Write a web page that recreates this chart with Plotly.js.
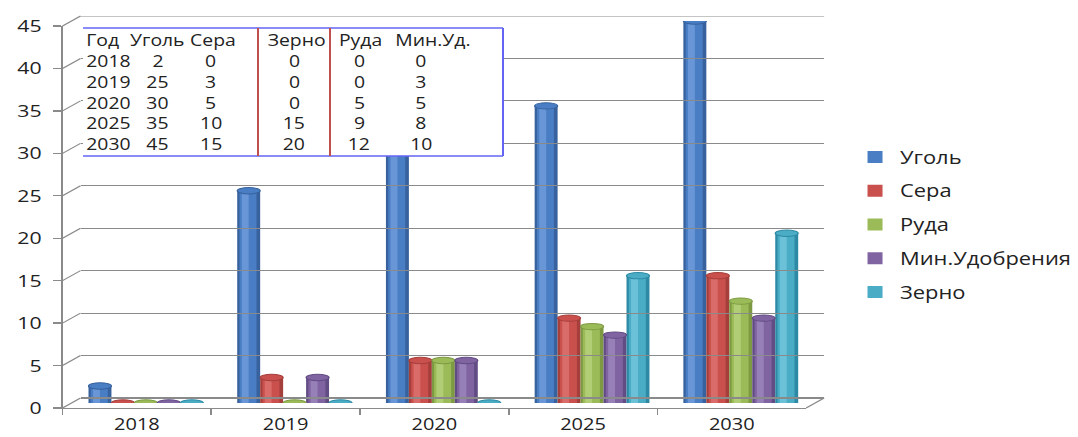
<!DOCTYPE html>
<html>
<head>
<meta charset="utf-8">
<script src="https://cdn.plot.ly/plotly-3.0.1.min.js"></script>
<style>
  html, body { margin: 0; padding: 0; background: #fff; overflow: hidden; }
  #chart { width: 862px; height: 437px; transform: scaleX(1.2506); transform-origin: 0 0; }
</style>
</head>
<body>
<div id="chart"></div>
<script>
// Freight volumes by year
const years = ['2018', '2019', '2020', '2025', '2030'];
const coal = [2, 25, 30, 35, 45];
const sulfur = [0, 3, 5, 10, 15];
const ore = [0, 0, 5, 9, 12];
const fertilizer = [0, 3, 5, 8, 10];
const grain = [0, 0, 0, 15, 20];
const seriesNames = ['Уголь', 'Сера', 'Руда', 'Мин.Удобрения', 'Зерно'];
const tableHeader = ['Год', 'Уголь', 'Сера', 'Зерно', 'Руда', 'Мин.Уд.'];
const yTicks = [0, 5, 10, 15, 20, 25, 30, 35, 40, 45];

const series = [coal, sulfur, ore, fertilizer, grain];
const tableColumns = [coal, sulfur, grain, ore, fertilizer];

// cylinder shading: edge, body, highlight
const palette = [
  ['#37629E', '#4A7EC4', '#6896D6'],
  ['#A53F3C', '#C9504C', '#D96B68'],
  ['#7D9A43', '#9BBB59', '#B1CE76'],
  ['#624C84', '#8064A2', '#9780B8'],
  ['#2E8AA4', '#4BACC6', '#6BC2D8']
];

// geometry of the pseudo-3D box (unscaled px; the page is stretched horizontally by SX)
const W = 862, H = 437, SX = 1078 / W;
const L = 50, R = 659, T = 16, B = 408;
const PW = R - L, PH = B - T;
const DX = 18 / SX, DY = 10, SPAN = 382;
const YMAX = 45;

const px = xImg => (xImg / SX - L) / PW;   // stretched-space x -> paper
const py = yImg => (B - yImg) / PH;        // y -> paper

const GROUP = 0.772, BW = GROUP / series.length;
const traces = [];
series.forEach((vals, s) => {
  const off = -GROUP / 2 + s * BW;
  const layers = [
    { c: palette[s][0], o: off, w: BW, legend: false },
    { c: palette[s][1], o: off + BW * 0.1, w: BW * 0.74, legend: true },
    { c: palette[s][2], o: off + BW * 0.2, w: BW * 0.3, legend: false }
  ];
  layers.forEach(ly => {
    traces.push({
      type: 'bar', x: years, y: vals, xaxis: 'x', yaxis: 'y',
      offset: ly.o, width: ly.w,
      marker: { color: ly.c, line: { width: 0 } },
      name: seriesNames[s], legendgroup: seriesNames[s],
      showlegend: ly.legend, hoverinfo: 'skip'
    });
  });
});

// front category axis carrier
traces.push({
  type: 'scatter', mode: 'markers', x: years, y: years.map(() => 0),
  xaxis: 'x2', yaxis: 'y2', marker: { opacity: 0 }, showlegend: false, hoverinfo: 'skip'
});

const shapes = [];
const GRID = '#8A8A8A';
const GW = 1.1;

// side wall lines joining the front axis ticks to the back wall grid
yTicks.forEach(v => {
  const yf = (v / YMAX) * SPAN / PH;
  const yb = (DY + (v / YMAX) * SPAN) / PH;
  shapes.push({ type: 'line', xref: 'paper', yref: 'paper', x0: 0, y0: yf, x1: DX / PW, y1: yb,
    line: { color: GRID, width: GW }, layer: 'below' });
});
// floor right edge
shapes.push({ type: 'line', xref: 'paper', yref: 'paper', x0: 1 - DX / PW, y0: 0, x1: 1, y1: DY / PH,
  line: { color: GRID, width: GW }, layer: 'below' });
// top edge of the back wall
shapes.push({ type: 'line', xref: 'paper', yref: 'y3', x0: DX / PW, x1: 1, y0: YMAX, y1: YMAX,
  line: { color: GRID, width: GW }, layer: 'below' });

// cylinder caps
series.forEach((vals, s) => {
  const off = -GROUP / 2 + s * BW;
  vals.forEach((v, j) => {
    shapes.push({
      type: 'circle', xref: 'x', yref: 'y', ysizemode: 'pixel', yanchor: v,
      x0: j + off, x1: j + off + BW, y0: -3.2, y1: 3.2,
      fillcolor: palette[s][1], line: { color: palette[s][0], width: 1 }, layer: 'above'
    });
  });
});

// data table overlay
const tL = 83, tR = 503, tT = 28, tB = 156;
shapes.push({ type: 'rect', xref: 'paper', yref: 'paper', x0: px(tL), x1: px(tR), y0: py(tB), y1: py(tT),
  fillcolor: '#ffffff', line: { width: 0 }, layer: 'above' });
const BLUE = '#6464F4', RED = '#C0504D';
shapes.push({ type: 'line', xref: 'paper', yref: 'paper', x0: px(tL), x1: px(tR), y0: py(tT), y1: py(tT), line: { color: BLUE, width: 1.6 }, layer: 'above' });
shapes.push({ type: 'line', xref: 'paper', yref: 'paper', x0: px(tL), x1: px(tR), y0: py(tB), y1: py(tB), line: { color: BLUE, width: 1.6 }, layer: 'above' });
shapes.push({ type: 'line', xref: 'paper', yref: 'paper', x0: px(tR), x1: px(tR), y0: py(tB), y1: py(tT), line: { color: BLUE, width: 1.6 }, layer: 'above' });
[258, 330].forEach(xr => {
  shapes.push({ type: 'line', xref: 'paper', yref: 'paper', x0: px(xr), x1: px(xr), y0: py(tB), y1: py(tT), line: { color: RED, width: 1.6 }, layer: 'above' });
});

const annotations = [];
const TFONT = { family: 'Open Sans, sans-serif', size: 15.5, color: '#222' };
const headerX = [84, 158, 213, 296, 361, 433];
const valueX = [158, 211, 294, 359, 421];
const rowY = [40, 61, 82, 103, 123, 144];
tableHeader.forEach((h, c) => {
  annotations.push({ xref: 'paper', yref: 'paper', x: px(headerX[c]), y: py(rowY[0]),
    text: h, showarrow: false, xanchor: c === 0 ? 'left' : 'center', yanchor: 'middle', font: TFONT });
});
years.forEach((yr, r) => {
  annotations.push({ xref: 'paper', yref: 'paper', x: px(84), y: py(rowY[r + 1]),
    text: yr, showarrow: false, xanchor: 'left', yanchor: 'middle', font: TFONT });
  tableColumns.forEach((col, c) => {
    annotations.push({ xref: 'paper', yref: 'paper', x: px(valueX[c]), y: py(rowY[r + 1]),
      text: String(col[r]), showarrow: false, xanchor: 'center', yanchor: 'middle', font: TFONT });
  });
});

const layout = {
  width: W, height: H,
  margin: { l: L, r: W - R, t: T, b: H - B, pad: 0, autoexpand: false },
  paper_bgcolor: '#ffffff', plot_bgcolor: 'rgba(0,0,0,0)',
  barmode: 'overlay',
  font: { family: 'Open Sans, sans-serif', color: '#222' },
  showlegend: true,
  legend: {
    x: px(850), y: py(139), xanchor: 'left', yanchor: 'top',
    font: { family: 'Open Sans, sans-serif', size: 17.5, color: '#222' },
    traceorder: 'grouped', tracegroupgap: 8, bgcolor: 'rgba(0,0,0,0)'
  },
  xaxis: { domain: [DX / 2 / PW, 1 - DX / 2 / PW], anchor: 'y', type: 'category',
    categoryorder: 'array', categoryarray: years, range: [-0.5, 4.5],
    showgrid: false, showline: false, ticks: '', showticklabels: false, zeroline: false, fixedrange: true },
  yaxis: { domain: [(DY / 2) / PH, (DY / 2 + SPAN) / PH], anchor: 'x', range: [0, YMAX],
    showgrid: false, showline: false, ticks: '', showticklabels: false, zeroline: false, fixedrange: true },
  xaxis2: { domain: [0, 1 - DX / PW], anchor: 'y2', type: 'category',
    categoryorder: 'array', categoryarray: years, range: [-0.5, 4.5],
    showgrid: false, showline: true, linecolor: GRID, linewidth: 1.3,
    ticks: 'outside', tickson: 'boundaries', ticklen: 6, tickcolor: GRID, tickwidth: 1.3,
    tickfont: { family: 'Open Sans, sans-serif', size: 16, color: '#222' }, ticklabelstandoff: 2,
    zeroline: false, fixedrange: true },
  yaxis2: { domain: [0, SPAN / PH], anchor: 'x2', range: [0, YMAX], tickvals: yTicks,
    showgrid: false, showline: true, linecolor: GRID, linewidth: 1.3,
    ticks: 'outside', ticklen: 6, tickcolor: GRID, tickwidth: 1.3,
    tickfont: { family: 'Open Sans, sans-serif', size: 17, color: '#222' }, ticklabelstandoff: 6,
    zeroline: false, fixedrange: true },
  xaxis3: { domain: [DX / PW, 1], anchor: 'y3', range: [0, 1], visible: false, fixedrange: true },
  yaxis3: { domain: [DY / PH, (DY + SPAN) / PH], anchor: 'x3', range: [0, YMAX], tickvals: yTicks,
    showgrid: true, gridcolor: GRID, gridwidth: GW, zeroline: true, zerolinecolor: GRID, zerolinewidth: GW,
    showline: false, ticks: '', showticklabels: false, fixedrange: true },
  shapes: shapes,
  annotations: annotations
};

Plotly.newPlot('chart', traces, layout, { displayModeBar: false, staticPlot: true });
</script>
</body>
</html>
